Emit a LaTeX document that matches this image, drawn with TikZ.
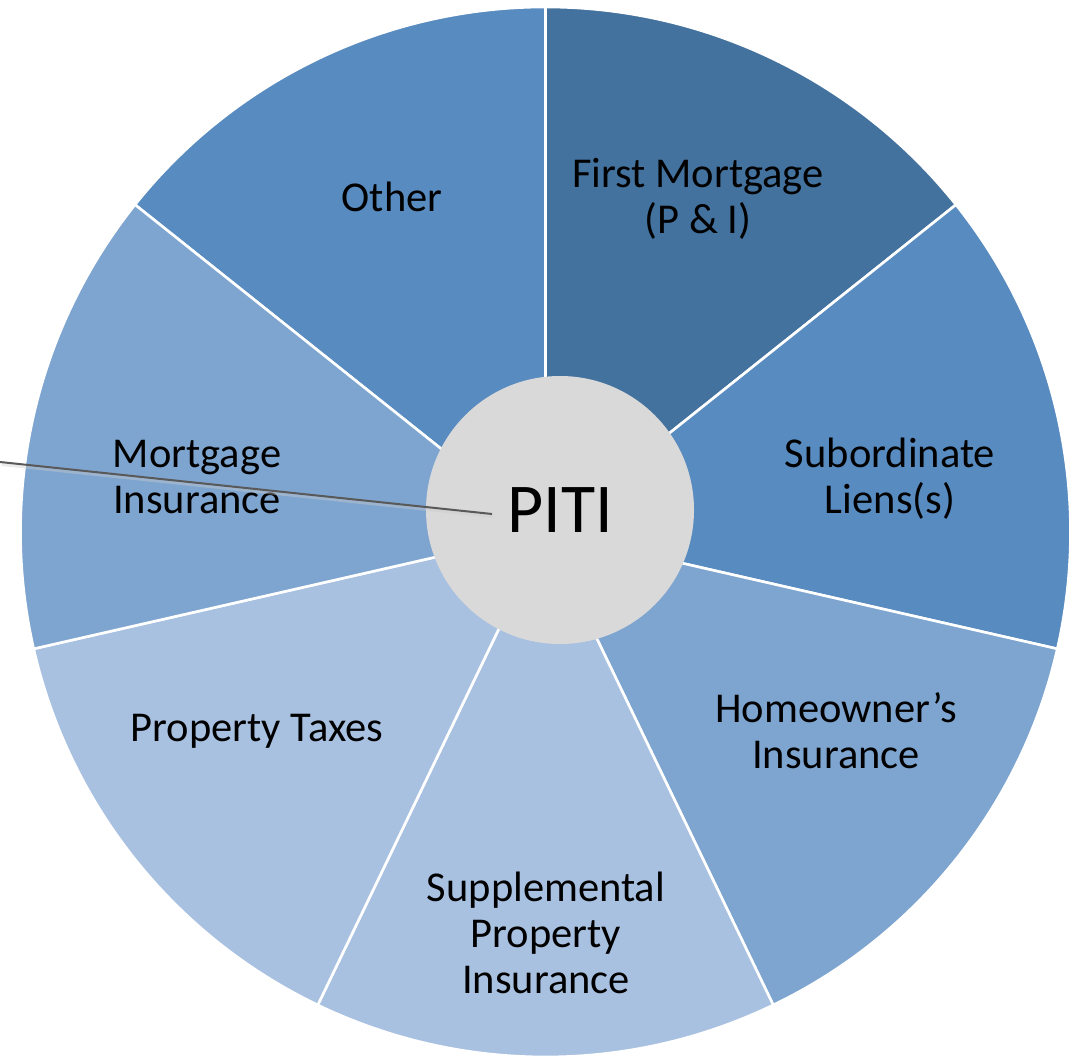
\documentclass[tikz,border=0pt]{standalone}
\usepackage{fontspec}
\setmainfont{Carlito}
\definecolor{cA}{RGB}{68,114,158}
\definecolor{cB}{RGB}{88,139,191}
\definecolor{cC}{RGB}{126,165,208}
\definecolor{cD}{RGB}{169,193,225}
\definecolor{hub}{RGB}{217,217,217}
\definecolor{leadc}{RGB}{89,89,89}
\tikzset{
  lbl/.style={align=center, text=black, font=\fontsize{42.5}{46}\selectfont, inner sep=0pt},
  sector/.style={draw=white, line width=2.6pt, line join=round},
}
\begin{document}
\begin{tikzpicture}[x=1pt,y=1pt]
\useasboundingbox (0,0) rectangle (1078,1058);
\coordinate (C) at (545.5,526);
\def\R{525}
\foreach \a/\b/\c in {90/141.43/cB, 38.57/90/cA, -12.86/38.57/cB, -64.29/-12.86/cC, -115.71/-64.29/cD, -167.14/-115.71/cD, 141.43/192.86/cC}{
  \filldraw[sector, fill=\c] (C) -- ++(\a:\R) arc[start angle=\a, end angle=\b, radius=\R] -- cycle;
}
% hub
\node[circle, fill=hub, minimum size=268pt, inner sep=0pt] (hubc) at (560,548) {};
% labels
\node[lbl] (other) at (392,861) {Other};
\node[lbl] (first) at (698,859) {First Mortgage\\(P \& I)};
\node[lbl] (sub) at (890,579) {Subordinate\\Liens(s)};
\node[lbl] (home) at (836,327) {Homeowner’s\\Insurance};
\node[lbl] (supp) at (546,125) {Supplemental\\Property\\Insurance};
\node[lbl] (tax) at (257,327) {Property Taxes};
\node[lbl] (mi) at (197,581) {Mortgage\\Insurance};
% leader line
\coordinate (ls) at (0,596);
\coordinate (le) at (492,544);
\draw[black!20, line width=3pt, opacity=0.4, transform canvas={shift={(1.5pt,-2.5pt)}}] (ls) -- (le);
\draw[leadc, line width=2pt] (ls) -- (le);
% PITI text
\node[font=\fontsize{70}{84}\selectfont, text=black, inner sep=0pt] (piti) at (560,547.5) {PITI};
\end{tikzpicture}
\end{document}
